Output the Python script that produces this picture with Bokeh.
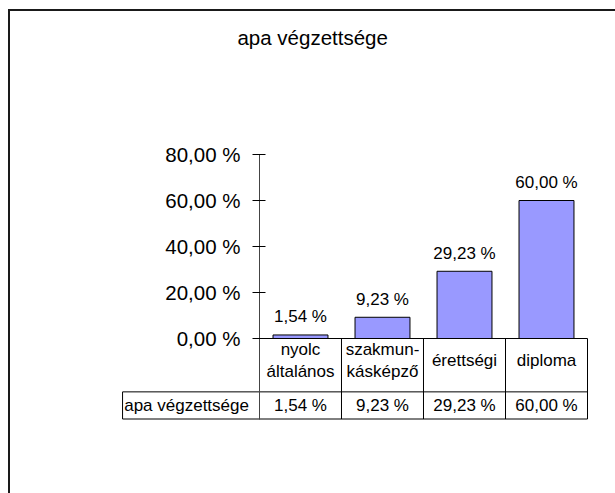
from bokeh.plotting import figure
from bokeh.models import Range1d, FixedTicker, ColumnDataSource
from bokeh.embed import file_html
from bokeh.resources import INLINE
from bokeh.core.properties import value

# ---- data ----
categories = ["nyolc általános", "szakmunkásképző", "érettségi", "diploma"]
category_labels = ["nyolc\náltalános", "szakmun-\nkásképző", "érettségi", "diploma"]
series_name = "apa  végzettsége"
values = [1.54, 9.23, 29.23, 60.00]
y_ticks = [0, 20, 40, 60, 80]
title_text = "apa  végzettsége"


def pct(v):
    return f"{v:.2f}".replace(".", ",") + " %"


FONT = "Liberation Sans"

# layout constants (data units: x = category slots, y = percent)
row_top = -23.2
row_bottom = -35.0
header_mid = -9.6
row_mid = -29.2
row_left = -1.67       # left edge of the series-name cell
title_x, title_y = 0.683, 131.0

p = figure(width=615, height=493, output_backend="svg", toolbar_location=None, tools="",
           x_range=Range1d(-1.81707, 4.07317), y_range=Range1d(-67.391, 146.957),
           min_border_left=110, min_border_right=22, min_border_top=0, min_border_bottom=0,
           x_axis_location=None)
p.grid.visible = False
p.outline_line_color = None
p.background_fill_color = "white"
p.border_fill_color = "white"
# outer chart-area border (left and top edges)
p.stylesheets = [":host::after { content: ''; position: absolute; left: 8px; top: 9px; right: 0; bottom: 0;"
                 " border-left: 2px solid #1a1a1a; border-top: 2px solid #1a1a1a; pointer-events: none; }"]

n = len(categories)
xs = [i + 0.5 for i in range(n)]
src = ColumnDataSource(dict(
    x=xs, top=values, cat=categories, lab=category_labels,
    vlab=[pct(v) for v in values],
    hy=[header_mid] * n, ry=[row_mid] * n,
))

# title
p.text(x=[title_x], y=[title_y], text=[title_text], text_align="center", text_baseline="middle",
       text_font=value(FONT), text_font_size="20.5px", text_color="black")

# bars
p.vbar(x="x", top="top", width=0.67, source=src, fill_color="#9999FF",
       line_color="#000000", line_width=1)

# data labels
p.text(x="x", y="top", text="vlab", source=src, y_offset=-18,
       text_align="center", text_baseline="middle",
       text_font=value(FONT), text_font_size="17px", text_color="black")

# category axis line and data-table grid
p.segment(x0=[0], y0=[0], x1=[n], y1=[0], line_color="black", line_width=1)
p.segment(x0=list(range(1, n + 1)), y0=[0] * n, x1=list(range(1, n + 1)), y1=[row_bottom] * n,
          line_color="black", line_width=1)
p.quad(left=[row_left], right=[n], top=[row_top], bottom=[row_bottom],
       fill_color=None, line_color="black", line_width=1)

# header (category) labels
p.text(x="x", y="hy", text="lab", source=src, text_align="center", text_baseline="middle",
       text_font=value(FONT), text_font_size="17px", text_color="black", text_line_height=1.2)

# data-table row
p.text(x=[row_left + 0.02], y=[row_mid], text=[series_name], text_align="left", text_baseline="middle",
       text_font=value(FONT), text_font_size="17px", text_color="black")
p.text(x="x", y="ry", text="vlab", source=src, text_align="center", text_baseline="middle",
       text_font=value(FONT), text_font_size="17px", text_color="black")

# y axis, drawn at the first category boundary
ax = p.yaxis[0]
ax.fixed_location = 0
ax.ticker = FixedTicker(ticks=y_ticks)
ax.major_label_overrides = {t: pct(t) for t in y_ticks}
ax.bounds = (row_bottom, y_ticks[-1])
ax.axis_line_color = "#444444"
ax.axis_line_width = 1
ax.major_tick_line_color = "black"
ax.major_tick_in = 6
ax.major_tick_out = 7
ax.minor_tick_line_color = None
ax.major_label_text_font = FONT
ax.major_label_text_font_size = "20.5px"
ax.major_label_text_color = "black"
ax.major_label_standoff = 12

open("out.html", "w").write(file_html(p, INLINE))
